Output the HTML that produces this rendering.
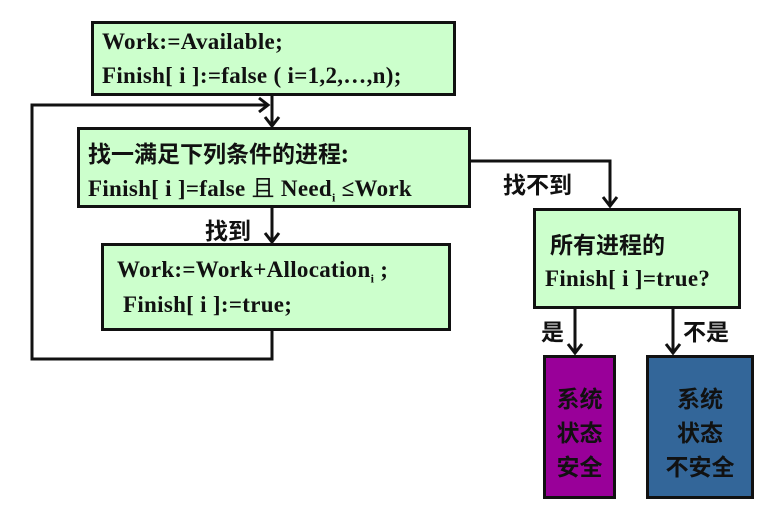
<!DOCTYPE html>
<html><head><meta charset="utf-8"><style>
body{margin:0;width:777px;height:509px;background:#fff;position:relative;overflow:hidden;font-family:"Liberation Serif","Noto Serif CJK SC",serif;}
.b{position:absolute;box-sizing:border-box;border:3px solid #111;background:#ccffcc;}
.t{position:absolute;font-weight:bold;font-size:23px;color:#111;white-space:nowrap;line-height:24px;letter-spacing:0.3px;}
.c{position:absolute;font-family:"Noto Sans CJK SC",sans-serif;font-weight:bold;font-size:23px;color:#111;white-space:nowrap;line-height:24px;}
.cb{font-family:"Noto Sans CJK SC",sans-serif;font-weight:bold;font-size:23px;color:#111;text-align:center;line-height:34px;}
sub{font-size:12px;}
</style></head><body>
<svg width="777" height="509" style="position:absolute;left:0;top:0">
<g stroke="#111" stroke-width="3" fill="none">
<path d="M272 95V126"/><path d="M265 117l7 9 7-9"/>
<path d="M272 330V359H32V105H268"/><path d="M259 98l9 7-9 7"/>
<path d="M272 207V242"/><path d="M265 233l7 9 7-9"/>
<path d="M470 161H610V206"/><path d="M603 197l7 9 7-9"/>
<path d="M575 308V353"/><path d="M568 344l7 9 7-9"/>
<path d="M673 308V353"/><path d="M666 344l7 9 7-9"/>
</g></svg>
<div class="b" style="left:91px;top:21px;width:365px;height:75px"></div>
<div class="t" style="left:102px;top:30px">Work:=Available;</div>
<div class="t" style="left:102px;top:64px">Finish[ i ]:=false ( i=1,2,…,n);</div>
<div class="b" style="left:77px;top:127px;width:394px;height:81px"></div>
<div class="c" style="left:88px;top:140px">找一满足下列条件的进程:</div>
<div class="t" style="left:88px;top:174px">Finish[ i ]=false <span style="font-family:'Noto Sans CJK SC';font-weight:normal">且</span> Need<sub>i</sub> ≤Work</div>
<div class="c" style="left:205px;top:217px">找到</div>
<div class="b" style="left:101px;top:243px;width:350px;height:88px"></div>
<div class="t" style="left:117px;top:258px">Work:=Work+Allocation<sub>i</sub> ;</div>
<div class="t" style="left:123px;top:293px">Finish[ i ]:=true;</div>
<div class="c" style="left:503px;top:171px">找不到</div>
<div class="b" style="left:533px;top:208px;width:208px;height:101px"></div>
<div class="c" style="left:550px;top:231px">所有进程的</div>
<div class="t" style="left:545px;top:267px">Finish[ i ]=true?</div>
<div class="c" style="left:541px;top:318px">是</div>
<div class="c" style="left:683px;top:318px">不是</div>
<div class="b cb" style="left:543px;top:355px;width:73px;height:144px;background:#990099;padding-top:22px">系统<br>状态<br>安全</div>
<div class="b cb" style="left:646px;top:355px;width:108px;height:144px;background:#336699;padding-top:22px">系统<br>状态<br>不安全</div>
</body></html>
